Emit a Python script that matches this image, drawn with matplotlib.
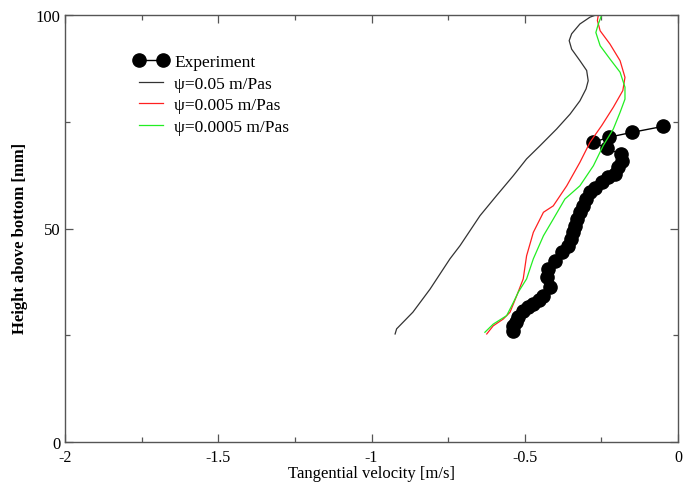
import matplotlib
matplotlib.use("Agg")
import matplotlib.pyplot as plt
from matplotlib.ticker import MultipleLocator

# ψ = 0.05 m/Pas
v_005 = [-0.268, -0.287, -0.320, -0.347, -0.355, -0.347, -0.320, -0.298, -0.293,
         -0.300, -0.320, -0.352, -0.396, -0.450, -0.494, -0.537, -0.592, -0.646,
         -0.711, -0.744, -0.809, -0.865, -0.918, -0.923]
h_005 = [100.0, 99.5, 97.9, 95.6, 94.0, 92.0, 89.3, 87.0, 84.6, 82.7, 79.9, 76.8,
         73.3, 69.4, 66.3, 62.4, 57.7, 53.0, 46.0, 42.9, 35.8, 30.4, 26.5, 25.3]

# ψ = 0.005 m/Pas
v_0005 = [-0.260, -0.263, -0.254, -0.222, -0.189, -0.173, -0.180, -0.211, -0.249,
          -0.287, -0.320, -0.363, -0.407, -0.439, -0.472, -0.494, -0.505, -0.526,
          -0.548, -0.570, -0.603, -0.624]
h_0005 = [100.0, 98.7, 96.3, 93.2, 89.3, 85.4, 82.3, 78.4, 74.1, 70.2, 65.5, 60.0,
          55.3, 53.8, 49.1, 43.6, 38.2, 34.3, 30.4, 28.8, 27.2, 25.3]

# ψ = 0.0005 m/Pas
v_00005 = [-0.249, -0.260, -0.268, -0.254, -0.222, -0.189, -0.173, -0.173, -0.189,
           -0.211, -0.244, -0.276, -0.320, -0.369, -0.407, -0.439, -0.472, -0.494,
           -0.521, -0.537, -0.559, -0.603, -0.630]
h_00005 = [100.0, 97.9, 95.9, 92.8, 89.7, 86.6, 83.1, 80.3, 77.2, 73.3, 69.4, 64.7,
           60.0, 56.9, 52.2, 48.3, 42.9, 38.2, 35.1, 32.7, 29.6, 27.6, 25.7]

# measurements
v_exp = [-0.050, -0.151, -0.224, -0.276, -0.233, -0.187, -0.184, -0.195, -0.206,
         -0.227, -0.249, -0.271, -0.287, -0.300, -0.309, -0.320, -0.331, -0.336,
         -0.342, -0.350, -0.358, -0.379, -0.401, -0.423, -0.428, -0.418, -0.439,
         -0.455, -0.472, -0.489, -0.505, -0.521, -0.530, -0.537, -0.539]
h_exp = [73.9, 72.5, 71.4, 70.2, 68.8, 67.4, 65.9, 64.3, 62.8, 62.0, 60.8, 59.6,
         58.5, 56.9, 55.3, 53.8, 52.2, 50.6, 49.1, 47.5, 46.0, 44.4, 42.5, 40.5,
         38.6, 36.2, 34.3, 33.3, 32.3, 31.5, 30.7, 29.2, 28.2, 27.2, 26.1]

x_ticks = [-2, -1.5, -1, -0.5, 0]
x_tick_labels = ["-2", "-1.5", "-1", "-0.5", "0"]

plt.rcParams["font.family"] = ["Liberation Serif", "DejaVu Serif"]
plt.rcParams["font.size"] = 12

fig = plt.figure(figsize=(6.94, 4.85), dpi=100)
ax = fig.add_axes([65 / 694, 1 - 443 / 485, 613 / 694, 427 / 485])

ax.plot(v_exp, h_exp, color="black", lw=1.0, marker="o", ms=9.5,
        label="Experiment")
ax.plot(v_005, h_005, color="#333333", lw=0.9, label="ψ=0.05 m/Pas")
ax.plot(v_0005, h_0005, color="#ff2020", lw=0.9, label="ψ=0.005 m/Pas")
ax.plot(v_00005, h_00005, color="#22ee22", lw=0.9, label="ψ=0.0005 m/Pas")

ax.set_xlim(-2, 0)
ax.set_ylim(0, 100)
ax.set_xticks(x_ticks)
ax.set_xticklabels(x_tick_labels)
ax.xaxis.set_minor_locator(MultipleLocator(0.25))
ax.yaxis.set_major_locator(MultipleLocator(50))
ax.yaxis.set_minor_locator(MultipleLocator(25))
ax.tick_params(which="both", direction="in", top=True, right=True,
               color="#555555", width=0.9)
ax.tick_params(which="major", length=6)
ax.tick_params(which="minor", length=3.5)
ax.tick_params(axis="x", pad=5, labelsize=11.5)
ax.tick_params(axis="y", pad=3)
for lbl in ax.get_yticklabels():
    lbl.set_verticalalignment("center_baseline")
for sp in ax.spines.values():
    sp.set_color("#555555")
    sp.set_linewidth(1.0)

ax.set_xlabel("Tangential velocity [m/s]", fontsize=12, labelpad=0)
ax.set_ylabel("Height above bottom [mm]", fontsize=12, fontweight="bold")
ax.yaxis.set_label_coords(-0.060, 0.48)

ax.legend(loc="upper left", bbox_to_anchor=(0.112, 0.909), frameon=False,
          fontsize=12.5, borderpad=0, borderaxespad=0, handlelength=2.0,
          handletextpad=0.35, labelspacing=0.32, numpoints=2)

fig.savefig("out.png", dpi=100, facecolor="white")
